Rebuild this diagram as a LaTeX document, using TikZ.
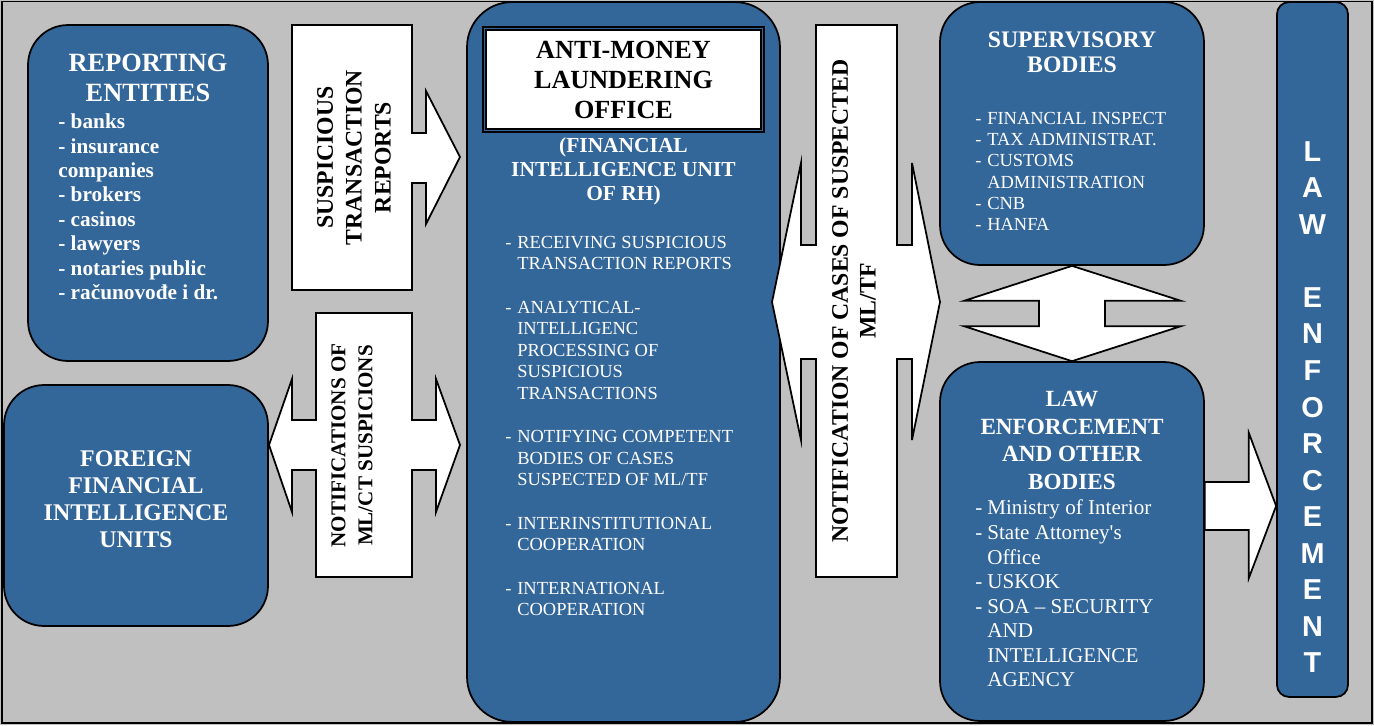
\documentclass[tikz,border=0pt]{standalone}
\usepackage{fontspec}
\setmainfont{Liberation Serif}
\newfontfamily\arialfont{Liberation Sans}
\usepackage{tikz}
\usetikzlibrary{positioning}

\definecolor{fiublue}{RGB}{51,102,153}
\definecolor{bggray}{RGB}{192,192,192}

\newcommand\fsz[2]{\fontsize{#1}{#2}\selectfont}
\newcommand\dsh{\makebox[0.24cm][l]{-}}
\newcommand\ind{\hspace*{0.24cm}}

\tikzset{
    bluebox/.style={draw=black, line width=1pt, fill=fiublue, rounded corners=0.8cm, inner sep=0pt},
    blockarrow/.style={draw=black, line width=1pt, fill=white, line join=miter},
    whitetxt/.style={text=white, inner sep=0pt, align=center},
    listtxt/.style={text=white, inner sep=0pt, align=left, anchor=north west},
    arrowtxt/.style={text=black, inner sep=0pt, align=center, rotate=90},
}

\begin{document}
\begin{tikzpicture}[x=0.02cm, y=-0.02cm]
        \useasboundingbox (0,0) rectangle (1374,725);
        \fill[bggray] (0,0) rectangle (1374,725);
        \draw[line width=0.8pt] (2,1.5) rectangle (1372,723);

        % blue boxes
        \node[bluebox, minimum width=4.8cm,  minimum height=6.72cm] (rep)  at (148,193)   {};
        \node[bluebox, minimum width=5.28cm, minimum height=4.82cm] (ffiu) at (136,505.5) {};
        \node[bluebox, rounded corners=0.9cm, minimum width=6.26cm, minimum height=14.4cm] (amlo) at (623.5,362) {};
        \node[bluebox, minimum width=5.28cm, minimum height=5.26cm] (sup)  at (1072,133.5) {};
        \node[bluebox, minimum width=5.28cm, minimum height=7.18cm] (leb)  at (1072,541.5) {};
        \node[bluebox, rounded corners=0.24cm, minimum width=1.42cm, minimum height=13.9cm] (lawbar) at (1312.5,349.5) {};

        % title frame of the office
        \node[draw, line width=1.2pt, minimum width=5.62cm, minimum height=2.1cm] (amlotitle) at (623.5,79.5) {};
        \draw[line width=0.9pt, fill=white] ([shift={(4,4)}]amlotitle.north west) rectangle ([shift={(-4,-4)}]amlotitle.south east);

        % block arrows
        \draw[blockarrow] (292,25) -- (412,25) -- (412,133) -- (426,133) -- (426,91) -- (460,157)
            -- (426,224) -- (426,183) -- (412,183) -- (412,290) -- (292,290) -- cycle;
        \draw[blockarrow] (316,313) -- (412,313) -- (412,420) -- (436,420) -- (436,379) -- (460,445)
            -- (436,512) -- (436,470) -- (412,470) -- (412,577) -- (316,577) -- (316,470)
            -- (292,470) -- (292,512) -- (269,445) -- (292,379) -- (292,420) -- (316,420) -- cycle;
        \draw[blockarrow] (816,25) -- (897,25) -- (897,245) -- (912,245) -- (912,163) -- (940,302)
            -- (912,440) -- (912,359) -- (897,359) -- (897,577) -- (816,577) -- (816,359)
            -- (801,359) -- (801,440) -- (772,302) -- (801,163) -- (801,245) -- (816,245) -- cycle;
        \draw[blockarrow] (sup.south) -- ([shift={(109,35)}]sup.south) -- ([shift={(33,35)}]sup.south)
            -- ([shift={(33,-35)}]leb.north) -- ([shift={(109,-35)}]leb.north) -- (leb.north)
            -- ([shift={(-108,-35)}]leb.north) -- ([shift={(-33,-35)}]leb.north)
            -- ([shift={(-33,35)}]sup.south) -- ([shift={(-108,35)}]sup.south) -- cycle;
        \coordinate (lvl) at (0,506);
        \coordinate (lebout) at (leb.east |- lvl);
        \draw[blockarrow] ([shift={(0,-24)}]lebout) -- ([shift={(44,-24)}]lebout) -- ([shift={(44,-73)}]lebout)
            -- (lawbar.west |- lebout) -- ([shift={(44,72)}]lebout) -- ([shift={(44,24)}]lebout)
            -- ([shift={(0,24)}]lebout) -- cycle;

        % texts
        \node[whitetxt, anchor=north, font={\bfseries\fsz{15}{17}}] (reptitle) at (148,54) {REPORTING\\ENTITIES};
        \node[listtxt, font={\bfseries\fsz{12.1}{13.9}}] (replist) at (58,113.5)
            {- banks\\- insurance\\companies\\- brokers\\- casinos\\- lawyers\\- notaries public\\- računovođe i dr.};
        \node[whitetxt, anchor=north, font={\bfseries\fsz{13.6}{15.5}}] (ffiutitle) at (136,450)
            {FOREIGN\\FINANCIAL\\INTELLIGENCE\\UNITS};

        \node[arrowtxt, font={\bfseries\fsz{13.5}{16.4}}] (strtxt) at (354,157.5) {SUSPICIOUS\\TRANSACTION\\REPORTS};
        \node[arrowtxt, font={\bfseries\fsz{12}{15.3}}] (nottxt) at (352,445.5) {NOTIFICATIONS OF\\ML/CT SUSPICIONS};
        \node[arrowtxt, font={\bfseries\fsz{13.5}{15.9}}] (casetxt) at (854,301) {NOTIFICATION OF CASES OF SUSPECTED\\ML/TF};

        \node[inner sep=0pt, align=center, anchor=north, font={\bfseries\fsz{14.9}{17}}] (amlotxt) at (623.5,41)
            {ANTI-MONEY\\LAUNDERING\\OFFICE};
        \node[whitetxt, anchor=north, font={\bfseries\fsz{12.2}{13.6}}] (fiutxt) at (623.5,137)
            {(FINANCIAL\\INTELLIGENCE UNIT\\OF RH)};
        \node[listtxt, font={\fsz{10.5}{12.3}}] (amlolist) at (505,235.7)
            {\dsh RECEIVING SUSPICIOUS\\\ind TRANSACTION REPORTS\\[12.3pt]
             \dsh ANALYTICAL-\\\ind INTELLIGENC\\\ind PROCESSING OF\\\ind SUSPICIOUS\\\ind TRANSACTIONS\\[12.3pt]
             \dsh NOTIFYING COMPETENT\\\ind BODIES OF CASES\\\ind SUSPECTED OF ML/TF\\[12.3pt]
             \dsh INTERINSTITUTIONAL\\\ind COOPERATION\\[12.3pt]
             \dsh INTERNATIONAL\\\ind COOPERATION};

        \node[whitetxt, anchor=north, font={\bfseries\fsz{13.5}{14.7}}] (suptitle) at (1072,31) {SUPERVISORY\\BODIES};
        \node[listtxt, font={\fsz{10.5}{12.1}}] (suplist) at (975,111.7)
            {\dsh FINANCIAL INSPECT\\\dsh TAX ADMINISTRAT.\\\dsh CUSTOMS\\\ind ADMINISTRATION\\\dsh CNB\\\dsh HANFA};

        \node[whitetxt, anchor=north, font={\bfseries\fsz{13.2}{15.7}}] (lebtitle) at (1072,391)
            {LAW\\ENFORCEMENT\\AND OTHER\\BODIES};
        \node[listtxt, font={\fsz{12}{14}}] (leblist) at (975,499.6)
            {\dsh Ministry of Interior\\\dsh State Attorney\textquotesingle s\\\ind Office\\\dsh USKOK\\\dsh SOA -- SECURITY\\\ind AND\\\ind INTELLIGENCE\\\ind AGENCY};

        \node[whitetxt, anchor=north, font={\arialfont\bfseries\fsz{16.4}{20.8}}] (lawtxt) at (1312.5,141)
            {L\\A\\W\\[20.8pt]E\\N\\F\\O\\R\\C\\E\\M\\E\\N\\T};
\end{tikzpicture}
\end{document}
